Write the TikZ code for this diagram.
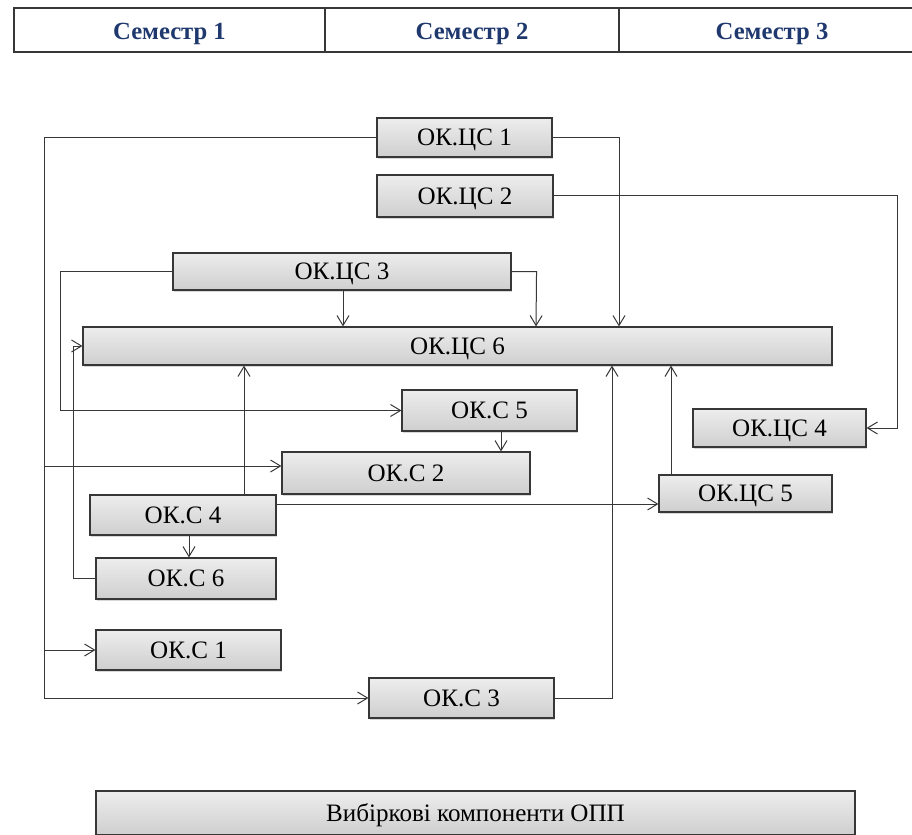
\documentclass[tikz,border=0pt]{standalone}
\usepackage{fontspec}
\setmainfont{Liberation Serif}
\usetikzlibrary{arrows.meta,shadows}
\definecolor{navy}{RGB}{31,56,110}
\definecolor{edge}{RGB}{55,55,55}
\begin{document}
\begin{tikzpicture}[x=0.75pt,y=-0.75pt,
  box/.style={draw=edge,line width=0.8pt,rectangle,inner sep=0pt,text depth=0pt,
    top color=gray!14,middle color=gray!4,bottom color=gray!38,
    drop shadow={shadow xshift=1pt,shadow yshift=-1.2pt,fill=gray!60,opacity=0.5},
    font=\fontsize{18.8}{22}\selectfont},
  hdr/.style={font=\fontsize{18.5}{22}\selectfont\bfseries,text=navy,inner sep=0pt,text depth=0pt},
  arr/.style={draw=edge,line width=0.75pt,-{Straight Barb[length=7.5pt,width=9pt]}},
  ln/.style={draw=edge,line width=0.75pt}]
\useasboundingbox (0,0) rectangle (912,834);
% header table
\draw[draw=edge,line width=0.8pt] (14,8) rectangle (930,52);
\draw[draw=edge,line width=0.8pt] (325,8) -- (325,52) (619,8) -- (619,52);
\node[hdr] (h1) at (169.5,31) {Семестр 1};
\node[hdr] (h2) at (472,31) {Семестр 2};
\node[hdr] (h3) at (772,31) {Семестр 3};
% boxes
\node[box,minimum width=175*0.75pt,minimum height=39*0.75pt] (c1) at (464.5,137.5) {ОК.ЦС 1};
\node[box,minimum width=176*0.75pt,minimum height=42*0.75pt] (c2) at (465,196) {ОК.ЦС 2};
\node[box,minimum width=338*0.75pt,minimum height=37*0.75pt] (c3) at (342,271.5) {ОК.ЦС 3};
\node[box,minimum width=749*0.75pt,minimum height=38*0.75pt] (c6) at (457.5,346) {ОК.ЦС 6};
\node[box,minimum width=175*0.75pt,minimum height=41*0.75pt] (s5) at (489.5,410.5) {ОК.С 5};
\node[box,minimum width=173*0.75pt,minimum height=38*0.75pt] (c4) at (779.5,428) {ОК.ЦС 4};
\node[box,minimum width=248*0.75pt,minimum height=42*0.75pt] (s2) at (406,473) {ОК.С 2};
\node[box,minimum width=173*0.75pt,minimum height=37*0.75pt] (c5) at (745.5,493.5) {ОК.ЦС 5};
\node[box,minimum width=186*0.75pt,minimum height=40*0.75pt] (s4) at (183,515) {ОК.С 4};
\node[box,minimum width=180*0.75pt,minimum height=41*0.75pt] (s6) at (186,578.5) {ОК.С 6};
\node[box,minimum width=185*0.75pt,minimum height=40*0.75pt] (s1) at (188.5,650) {ОК.С 1};
\node[box,minimum width=185*0.75pt,minimum height=40*0.75pt] (s3) at (461.5,698) {ОК.С 3};
\node[box,minimum width=759*0.75pt,minimum height=44*0.75pt] (v) at (475.5,813) {Вибіркові компоненти ОПП};
% connectors
\coordinate (t1) at (44,137.5);
\coordinate (b2) at (44,466);
\draw[arr] (c1.west) -- (t1) -- (t1 |- s3.west) -- (s3.west);
\draw[arr] (b2) -- (s2.west |- b2);
\draw[arr] (t1 |- s1.west) -- (s1.west);
\draw[arr] (c1.east) -| (619,0 |- c6.north);
\draw[arr] (c2.east) -- ++(344,0) |- (c4.east);
\draw[arr] (343,0 |- c3.south) -- (343,0 |- c6.north);
\draw[arr] (c3.east) -- ++(25,0) -- (536,0 |- c6.north);
\draw[arr] (c3.west) -- ++(-112,0) |- (s5.west);
\draw[arr] (s6.west) -- ++(-22,0) |- (c6.west);
\draw[arr] (244,0 |- s4.north) -- (244,0 |- c6.south);
\draw[arr] (s4.east |- 0,504) -- (c5.west |- 0,504);
\draw[arr] (189,0 |- s4.south) -- (189,0 |- s6.north);
\draw[arr] (501,0 |- s5.south) -- (501,0 |- s2.north);
\draw[arr] (671,0 |- c5.north) -- (671,0 |- c6.south);
\draw[arr] (s3.east) -- (612,0 |- s3.east) -- (612,0 |- c6.south);
\end{tikzpicture}
\end{document}
